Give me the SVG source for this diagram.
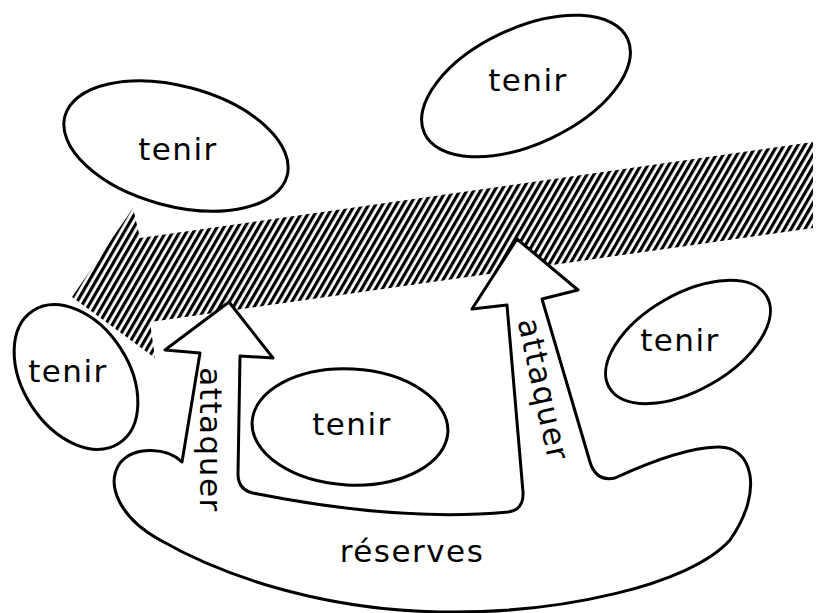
<svg xmlns="http://www.w3.org/2000/svg" width="819" height="613" viewBox="0 0 819 613">
<defs>
<pattern id="hatch" patternUnits="userSpaceOnUse" width="6" height="10" patternTransform="rotate(30)">
<rect x="0" y="0" width="3.2" height="10" fill="#000"/>
</pattern>
</defs>
<style>
.shape{fill:#fff;stroke:#000;stroke-width:3;stroke-linejoin:round}
.lbl{font-family:"DejaVu Sans",sans-serif;font-size:31px;letter-spacing:1.5px;fill:#000;text-anchor:middle}
</style>
<rect width="819" height="613" fill="#fff"/>
<g id="connectors">
<polygon id="main-attack" points="133,208 140,238 813,142 813,228 150,322 155,358 72,297" fill="url(#hatch)"/>
</g>
<g id="reserves">
<path class="shape" d="M165,350 L229,302 L273,358 L240,356 L238,474 Q238,492 258,494 Q400,522 508,512 Q524,510 523,492 L507,305 L472,309 L517,239 L578,290 L542,299 L590,462 Q596,482 615,478 Q680,448 717,447 C752,445 765,490 730,540 C690,585 560,614 440,612 C330,610 230,580 160,540 C120,518 105,485 120,463 C135,445 168,448 182,462 L200,353 Z"/>
<text class="lbl" x="412" y="562">réserves</text>
<text class="lbl" transform="translate(200,440) rotate(90)">attaquer</text>
<text class="lbl" transform="translate(533,392) rotate(77.6)">attaquer</text>
</g>
<g id="tenir1">
<ellipse class="shape" cx="176" cy="146" rx="115" ry="60" transform="rotate(15 176 146)"/>
<text class="lbl" x="178" y="160">tenir</text>
</g>
<g id="tenir2">
<ellipse class="shape" cx="526" cy="86" rx="112" ry="58" transform="rotate(-25 526 86)"/>
<text class="lbl" x="528" y="91">tenir</text>
</g>
<g id="tenir3">
<ellipse class="shape" cx="76" cy="377" rx="79" ry="53" transform="rotate(57 76 377)"/>
<text class="lbl" x="68" y="382">tenir</text>
</g>
<g id="tenir4">
<ellipse class="shape" cx="350" cy="427" rx="98" ry="58" transform="rotate(3 350 427)"/>
<text class="lbl" x="352" y="435">tenir</text>
</g>
<g id="tenir5">
<ellipse class="shape" cx="688" cy="342" rx="91" ry="48" transform="rotate(-30 688 342)"/>
<text class="lbl" x="680" y="351">tenir</text>
</g>
</svg>
